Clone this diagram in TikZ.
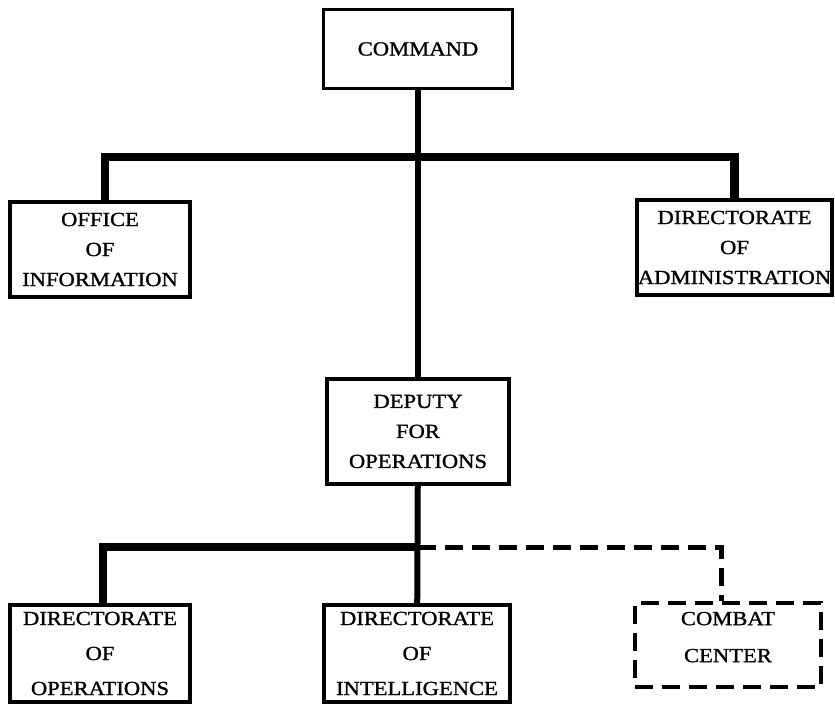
\documentclass[tikz,border=0pt]{standalone}
\usepackage{fontspec}
\setmainfont{Liberation Serif}[FakeStretch=1.13,FakeBold=1.2]
\tikzset{
  unit/.style={rectangle,draw,line width=3.5pt,inner sep=0pt,align=center,
    font=\fontsize{20}{30}\selectfont},
  lowunit/.style={unit,font=\fontsize{20}{35}\selectfont},
  planned/.style={unit,dash pattern=on 18pt off 9pt,
    font=\fontsize{20}{37}\selectfont,text depth=16pt},
  bar/.style={line width=8.5pt},
  trunk/.style={line width=6pt},
  link/.style={line width=5pt,dash pattern=on 18pt off 9pt}
}

\begin{document}
\begin{tikzpicture}[x=1pt,y=-1pt]
      \useasboundingbox (0,0) rectangle (835,704);

      \node[unit,minimum width=189pt,minimum height=79pt] (command) at (418,49) {COMMAND};
      \node[unit,minimum width=180pt,minimum height=95pt] (office) at (100,249.5) {OFFICE\\OF\\INFORMATION};
      \node[unit,minimum width=195pt,minimum height=95pt] (admin) at (734.5,247.5) {DIRECTORATE\\OF\\ADMINISTRATION};
      \node[unit,minimum width=182pt,minimum height=105pt] (deputy) at (418,431.5) {DEPUTY\\FOR\\OPERATIONS};
      \node[lowunit,minimum width=180pt,minimum height=97pt] (dirops) at (100,653.5) {DIRECTORATE\\OF\\OPERATIONS};
      \node[lowunit,minimum width=186pt,minimum height=97pt] (dirint) at (417,653.5) {DIRECTORATE\\OF\\INTELLIGENCE};
      \node[planned,minimum width=186pt,minimum height=84pt] (combat) at (728,645) {COMBAT\\CENTER};

      \coordinate (top) at (418,157);
      \coordinate (low) at (418,547);

      \draw[trunk] (command) -- (deputy);
      \draw[bar] ([xshift=5pt]office.north) |- (top) -| (admin.north);
      \draw[trunk] (deputy) -- (dirint);
      \draw[bar] ([xshift=3pt]dirops.north) |- (low);
      \draw[link] (low) -| ([xshift=-7pt]combat.north);
    \end{tikzpicture}
\end{document}
